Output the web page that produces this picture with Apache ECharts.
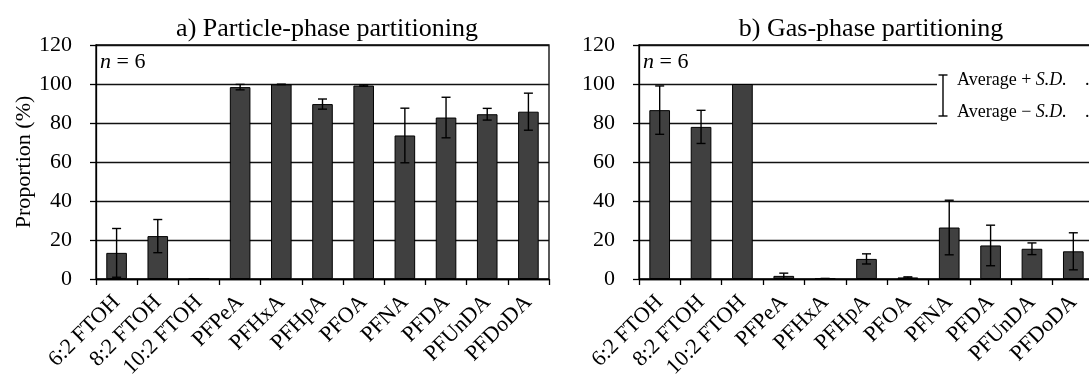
<!DOCTYPE html>
<html>
<head>
<meta charset="utf-8">
<script src="https://cdn.jsdelivr.net/npm/echarts@6/dist/echarts.min.js"></script>
<style>html,body{margin:0;padding:0;background:#fff}#c{width:1089px;height:374px}</style>
</head>
<body>
<div id="c"></div>
<script>
const categories = ['6:2 FTOH','8:2 FTOH','10:2 FTOH','PFPeA','PFHxA','PFHpA','PFOA','PFNA','PFDA','PFUnDA','PFDoDA'];
const particleMean = [13.4, 22.0, 0, 98.4, 99.8, 89.7, 99.2, 73.6, 82.8, 84.5, 85.8];
const particleSD   = [12.5, 8.5, 0, 1.4, 0.1, 2.6, 0.3, 14.0, 10.4, 3.0, 9.5];
const gasMean = [86.6, 78.0, 100, 1.6, 0.2, 10.3, 0.8, 26.4, 17.2, 15.5, 14.2];
const gasSD   = [12.4, 8.5, 0, 1.4, 0.1, 2.6, 0.3, 14.0, 10.4, 3.0, 9.5];
const yTicks = [0, 20, 40, 60, 80, 100, 120];

const FONT = "'Liberation Serif', 'Times New Roman', serif";
const chart = echarts.init(document.getElementById('c'), null, {renderer: 'canvas'});

function errData(mean, sd) {
  return mean.map((m, i) => [i, m, sd[i]]).filter(d => d[2] > 0);
}
function renderErr(params, api) {
  const x = api.value(0), m = api.value(1), sd = api.value(2);
  const hi = api.coord([x, m + sd]);
  const lo = api.coord([x, m - sd]);
  const w = 4.5;
  const st = {stroke: '#000', lineWidth: 1.4};
  return {type: 'group', children: [
    {type: 'line', shape: {x1: hi[0], y1: hi[1], x2: lo[0], y2: lo[1]}, style: st},
    {type: 'line', shape: {x1: hi[0] - w, y1: hi[1], x2: hi[0] + w, y2: hi[1]}, style: st},
    {type: 'line', shape: {x1: lo[0] - w, y1: lo[1], x2: lo[0] + w, y2: lo[1]}, style: st}
  ]};
}
function xAxis(gi) {
  return {
    type: 'category', gridIndex: gi, data: categories,
    axisLine: {lineStyle: {color: '#000', width: 1.3}},
    axisTick: {show: true, length: 6, lineStyle: {color: '#000', width: 1.3}},
    axisLabel: {rotate: 45, margin: 20, fontFamily: FONT, fontSize: 22, color: '#000', interval: 0},
  };
}
function yAxis(gi, name) {
  return {
    type: 'value', gridIndex: gi, min: 0, max: 120, interval: 20,
    name: name, nameLocation: 'middle', nameGap: 58,
    nameTextStyle: {fontFamily: FONT, fontSize: 22, color: '#000'},
    axisLine: {show: true, lineStyle: {color: '#000', width: 1.3}},
    axisTick: {show: true, length: 6, lineStyle: {color: '#000', width: 1.3}},
    axisLabel: {margin: 24, fontFamily: FONT, fontSize: 22, color: '#000',
      formatter: v => yTicks.includes(v) ? String(v) : ''},
    splitLine: {show: true, lineStyle: {color: '#111', width: 1.3}}
  };
}
const barStyle = {color: '#404040', borderColor: '#000', borderWidth: 1};

chart.setOption({
  animation: false,
  backgroundColor: '#fff',
  title: [
    {text: 'a) Particle-phase partitioning', left: 322, top: 11, textAlign: 'center',
     textStyle: {fontFamily: FONT, fontSize: 26, fontWeight: 'normal', color: '#000'}},
    {text: 'b) Gas-phase partitioning', left: 866, top: 11, textAlign: 'center',
     textStyle: {fontFamily: FONT, fontSize: 26, fontWeight: 'normal', color: '#000'}}
  ],
  grid: [
    {left: 96, top: 45, width: 453, height: 234, show: true, borderColor: '#000', borderWidth: 1.3,
     containLabel: false, outerBoundsMode: 'none'},
    {left: 639, top: 45, width: 455, height: 234, show: true, borderColor: '#000', borderWidth: 1.3,
     containLabel: false, outerBoundsMode: 'none'}
  ],
  xAxis: [xAxis(0), xAxis(1)],
  yAxis: [yAxis(0, 'Proportion (%)'), yAxis(1, '')],
  series: [
    {type: 'bar', xAxisIndex: 0, yAxisIndex: 0, data: particleMean, barWidth: '50%', itemStyle: barStyle},
    {type: 'custom', xAxisIndex: 0, yAxisIndex: 0, data: errData(particleMean, particleSD), renderItem: renderErr, z: 5},
    {type: 'bar', xAxisIndex: 1, yAxisIndex: 1, data: gasMean, barWidth: '50%', itemStyle: barStyle},
    {type: 'custom', xAxisIndex: 1, yAxisIndex: 1, data: errData(gasMean, gasSD), renderItem: renderErr, z: 5}
  ],
  graphic: [
    {type: 'text', left: 100, top: 51, z: 100, style: {
      text: '{i|n} = 6', fontFamily: FONT, fontSize: 22, fill: '#000',
      rich: {i: {fontStyle: 'italic', fontFamily: FONT, fontSize: 22}}}},
    {type: 'text', left: 643, top: 51, z: 100, style: {
      text: '{i|n} = 6', fontFamily: FONT, fontSize: 22, fill: '#000',
      rich: {i: {fontStyle: 'italic', fontFamily: FONT, fontSize: 22}}}},
    {type: 'rect', z: 100, shape: {x: 937, y: 70, width: 160, height: 58}, style: {fill: '#fff'}},
    {type: 'line', z: 101, shape: {x1: 943, y1: 75, x2: 943, y2: 116}, style: {stroke: '#000', lineWidth: 1.4}},
    {type: 'line', z: 101, shape: {x1: 938.5, y1: 75, x2: 947.5, y2: 75}, style: {stroke: '#000', lineWidth: 1.4}},
    {type: 'line', z: 101, shape: {x1: 938.5, y1: 116, x2: 947.5, y2: 116}, style: {stroke: '#000', lineWidth: 1.4}},
    {type: 'text', z: 101, x: 957, y: 80, style: {
      text: 'Average + {i|S.D.}', fontFamily: FONT, fontSize: 18, fill: '#000', verticalAlign: 'middle',
      rich: {i: {fontStyle: 'italic', fontFamily: FONT, fontSize: 18}}}},
    {type: 'text', z: 101, x: 957, y: 112, style: {
      text: 'Average \u2212 {i|S.D.}', fontFamily: FONT, fontSize: 18, fill: '#000', verticalAlign: 'middle',
      rich: {i: {fontStyle: 'italic', fontFamily: FONT, fontSize: 18}}}},
    {type: 'text', z: 101, x: 1085, y: 80, style: {text: '.', fontFamily: FONT, fontSize: 18, fill: '#000', verticalAlign: 'middle'}},
    {type: 'text', z: 101, x: 1085, y: 112, style: {text: '.', fontFamily: FONT, fontSize: 18, fill: '#000', verticalAlign: 'middle'}}
  ]
});
</script>
</body>
</html>
